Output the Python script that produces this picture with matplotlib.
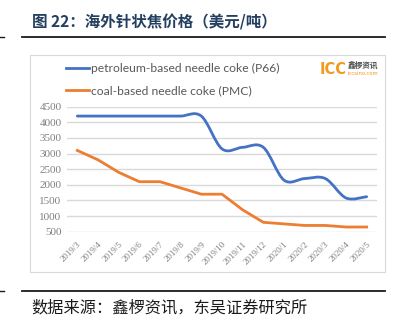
import numpy as np
import matplotlib
matplotlib.use('Agg')
import matplotlib.pyplot as plt
from matplotlib.path import Path
from matplotlib.patches import PathPatch, Rectangle
from matplotlib.lines import Line2D

# Data

months = ['2019/3', '2019/4', '2019/5', '2019/6', '2019/7', '2019/8', '2019/9',
          '2019/10', '2019/11', '2019/12', '2020/1', '2020/2', '2020/3', '2020/4', '2020/5']
petroleum = [4200, 4200, 4200, 4200, 4200, 4200, 4200,
             3150, 3200, 3200, 2150, 2200, 2200, 1580, 1620]
coal = [3100, 2800, 2400, 2100, 2100, 1900, 1700,
        1700, 1200, 800, 750, 700, 700, 650, 650]
yticks = [500, 1000, 1500, 2000, 2500, 3000, 3500, 4000, 4500]

title = '图 22：海外针状焦价格（美元/吨）'
source = '数据来源：鑫椤资讯，东吴证券研究所'

W, H = 396, 326
blue = '#4472C4'
orange = '#ED7D31'

plt.rcParams['font.family'] = ['Noto Sans CJK SC', 'DejaVu Sans']

fig = plt.figure(figsize=(W / 100, H / 100), dpi=100)

def fx(px):
    return px / W

def fy(py):
    return 1 - py / H

ax = fig.add_axes([fx(67), fy(231.7), fx(377) - fx(67), fy(106.7) - fy(231.7)])

# Excel-like smoothed line (cubic bezier through the points)
def smooth_path(xs, ys):
    xs = np.asarray(xs, float)
    ys = np.asarray(ys, float)
    n = len(xs)
    verts = [(xs[0], ys[0])]
    codes = [Path.MOVETO]
    for i in range(n - 1):
        p0 = i - 1 if i > 0 else i
        p3 = i + 2 if i + 2 < n else i + 1
        c1 = (xs[i] + (xs[i + 1] - xs[p0]) / 6, ys[i] + (ys[i + 1] - ys[p0]) / 6)
        c2 = (xs[i + 1] - (xs[p3] - xs[i]) / 6, ys[i + 1] - (ys[p3] - ys[i]) / 6)
        verts += [c1, c2, (xs[i + 1], ys[i + 1])]
        codes += [Path.CURVE4] * 3
    return Path(verts, codes)

x = np.arange(len(months))

for yv in yticks:
    ax.axhline(yv, color='#D9D9D9', lw=1.0, zorder=0)

ax.add_patch(PathPatch(smooth_path(x, petroleum), fill=False, edgecolor=blue,
                       lw=2.0, capstyle='round', zorder=3))
ax.plot(x, coal, color=orange, lw=2.0, solid_joinstyle='round', zorder=3)

ax.set_xlim(-0.5, len(months) - 0.5)
ax.set_ylim(500, 4500)
ax.set_yticks(yticks)
ax.set_yticklabels([str(v) for v in yticks], family='Liberation Serif',
                   fontsize=8, color='#7F7F7F')
ax.set_xticks(x)
ax.set_xticklabels(months, rotation=45, ha='right', rotation_mode='anchor',
                   family='Liberation Serif', fontsize=6.5, color='#7F7F7F')
ax.tick_params(length=0, pad=4)
ax.tick_params(axis='x', pad=6)
for s in ax.spines.values():
    s.set_visible(False)
ax.patch.set_alpha(0)

handles = [Line2D([], [], color=blue, lw=2.0),
           Line2D([], [], color=orange, lw=2.0)]
labels = ['petroleum-based needle coke (P66)', 'coal-based needle coke (PMC)']
fig.legend(handles, labels, loc='upper left', bbox_to_anchor=(fx(66), fy(63)),
           frameon=False, borderpad=0, borderaxespad=0, handlelength=1.9,
           handletextpad=0.2, labelspacing=0.9,
           prop={'family': 'Lato', 'size': 8.7}, labelcolor='#595959')

# chart frame
fig.add_artist(Rectangle((fx(30), fy(272.3)), fx(385) - fx(30), fy(55) - fy(272.3),
                         transform=fig.transFigure, fill=False,
                         edgecolor='#D9D9D9', lw=0.8))

# logo
fig.text(fx(320), fy(69), 'ICC', color='#F39A1E', fontsize=10.5, fontweight='bold',
         family='DejaVu Sans', va='center', ha='left')
fig.text(fx(348), fy(65), '鑫椤资讯', color='#4A4A4A', fontsize=5.5, fontweight='bold',
         va='center', ha='left')
fig.text(fx(348), fy(73.5), 'iccsino.com', color='#F39A1E', fontsize=3.8,
         family='DejaVu Sans', va='center', ha='left')

# header and footer
fig.text(fx(32), fy(22), title, color='#243F60', fontsize=11.2, fontweight='semibold',
         va='center', ha='left')
fig.add_artist(Line2D([fx(22), fx(385)], [fy(37.3), fy(37.3)], color='#1A1A1A', lw=1.3))
fig.add_artist(Line2D([fx(0), fx(4)], [fy(37.3), fy(37.3)], color='#1A1A1A', lw=1.0))
fig.add_artist(Line2D([fx(22), fx(385)], [fy(290.7), fy(290.7)], color='#1A1A1A', lw=1.3))
fig.add_artist(Line2D([fx(0), fx(4)], [fy(290.7), fy(290.7)], color='#1A1A1A', lw=1.0))
fig.text(fx(31), fy(308), source, color='#1A1A1A', fontsize=11.7,
         va='center', ha='left')

fig.savefig('out.png', dpi=100)
